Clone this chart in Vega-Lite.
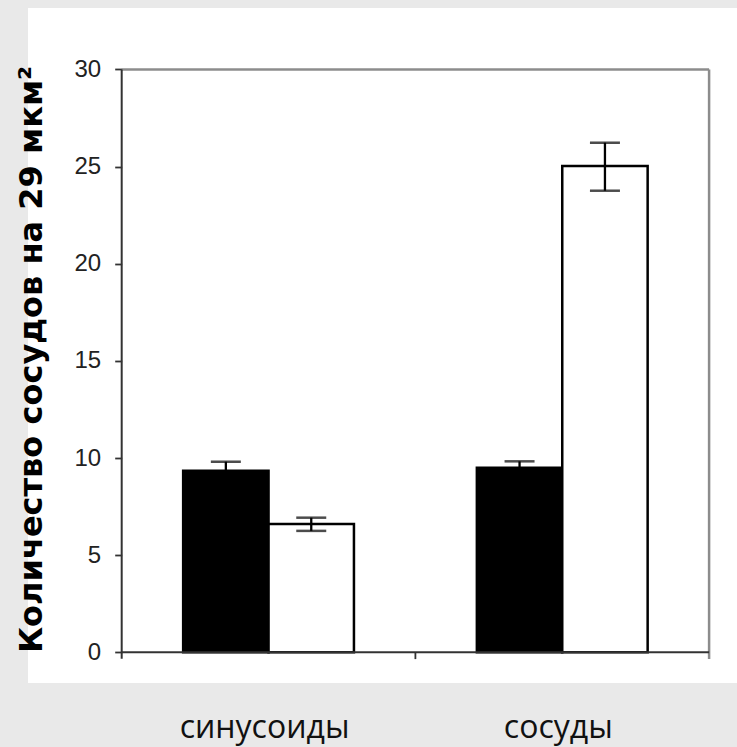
{
  "$schema": "https://vega.github.io/schema/vega-lite/v6.json",
  "width": 709,
  "height": 675,
  "autosize": {"type": "none"},
  "padding": {"left": 28, "top": 8, "right": 0, "bottom": 64},
  "background": "#e9e9e9",
  "config": {"view": {"fill": "white", "stroke": null}},
  "layer": [
    {
      "data": {"values": [
        {"cat": "синусоиды", "grp": "a", "value": 9.35, "lo": 8.89, "hi": 9.81},
        {"cat": "синусоиды", "grp": "b", "value": 6.6, "lo": 6.25, "hi": 6.93},
        {"cat": "сосуды", "grp": "a", "value": 9.5, "lo": 9.17, "hi": 9.83},
        {"cat": "сосуды", "grp": "b", "value": 25.03, "lo": 23.76, "hi": 26.23}
      ]},
      "layer": [
        {
          "mark": {"type": "bar", "stroke": "black", "strokeWidth": 2.5},
          "encoding": {
            "x": {
              "field": "cat", "type": "nominal", "sort": null,
              "scale": {"type": "band", "domain": ["синусоиды", "сосуды"], "paddingInner": 0, "paddingOuter": 0.20701, "align": 0.77056},
              "axis": {"title": null, "domain": false, "ticks": false, "labelFont": "Open Sans", "labelFontSize": 32, "labelColor": "#111", "labelPadding": 54, "labelBaseline": "alphabetic", "labelAngle": 0, "labelOffset": -4}
            },
            "xOffset": {"field": "grp", "type": "nominal", "scale": {"domain": ["a", "b"], "paddingInner": 0, "paddingOuter": 0.7196}},
            "y": {
              "field": "value", "type": "quantitative",
              "scale": {"domain": [-1.58, 33.165], "nice": false, "zero": false},
              "axis": {
                "values": [0, 5, 10, 15, 20, 25, 30], "offset": -93.7, "domain": false, "grid": false,
                "tickSize": 7, "tickColor": "#333", "tickWidth": 1.8,
                "labelFont": "Liberation Sans", "labelFontSize": 24, "labelColor": "#222", "labelPadding": 14,
                "title": "Количество сосудов на 29 мкм²", "titleFont": "DejaVu Sans", "titleFontWeight": "bold", "titleFontSize": 32, "titleColor": "black",
                "titleX": -80, "titleY": 351, "titleAngle": -90, "titleAlign": "center", "titleBaseline": "alphabetic"
              }
            },
            "y2": {"datum": 0},
            "fill": {"field": "grp", "type": "nominal", "scale": {"domain": ["a", "b"], "range": ["black", "white"]}, "legend": null}
          }
        },
        {
          "mark": {"type": "rule", "color": "black", "strokeWidth": 2.3},
          "encoding": {
            "x": {"field": "cat", "type": "nominal"},
            "xOffset": {"field": "grp", "type": "nominal"},
            "y": {"field": "lo", "type": "quantitative"},
            "y2": {"field": "hi"}
          }
        },
        {
          "mark": {"type": "tick", "color": "black", "size": 30, "thickness": 2.5},
          "encoding": {
            "x": {"field": "cat", "type": "nominal"},
            "xOffset": {"field": "grp", "type": "nominal"},
            "y": {"field": "hi", "type": "quantitative"}
          }
        },
        {
          "mark": {"type": "tick", "color": "black", "size": 30, "thickness": 2.5},
          "encoding": {
            "x": {"field": "cat", "type": "nominal"},
            "xOffset": {"field": "grp", "type": "nominal"},
            "y": {"field": "lo", "type": "quantitative"}
          }
        }
      ]
    },
    {
      "data": {"values": [{}]},
      "mark": {"type": "rule", "color": "#8c8c8c", "strokeWidth": 2.5},
      "encoding": {
        "x": {"datum": "синусоиды", "bandPosition": 0},
        "x2": {"datum": "сосуды", "bandPosition": 1},
        "y": {"datum": 30}
      }
    },
    {
      "data": {"values": [{}]},
      "mark": {"type": "rule", "color": "#8c8c8c", "strokeWidth": 2.5},
      "encoding": {
        "x": {"datum": "сосуды", "bandPosition": 1},
        "y": {"datum": 30},
        "y2": {"datum": -0.35}
      }
    },
    {
      "data": {"values": [{}]},
      "mark": {"type": "rule", "color": "#333", "strokeWidth": 2},
      "encoding": {
        "x": {"datum": "синусоиды", "bandPosition": 0},
        "y": {"datum": 30},
        "y2": {"datum": -0.33}
      }
    },
    {
      "data": {"values": [{}]},
      "mark": {"type": "rule", "color": "#333", "strokeWidth": 2},
      "encoding": {
        "x": {"datum": "синусоиды", "bandPosition": 0},
        "x2": {"datum": "сосуды", "bandPosition": 1},
        "y": {"datum": 0}
      }
    },
    {
      "data": {"values": [{}]},
      "mark": {"type": "rule", "color": "#333", "strokeWidth": 1.8},
      "encoding": {
        "x": {"datum": "сосуды", "bandPosition": 0},
        "y": {"datum": 0},
        "y2": {"datum": -0.35}
      }
    }
  ]
}
